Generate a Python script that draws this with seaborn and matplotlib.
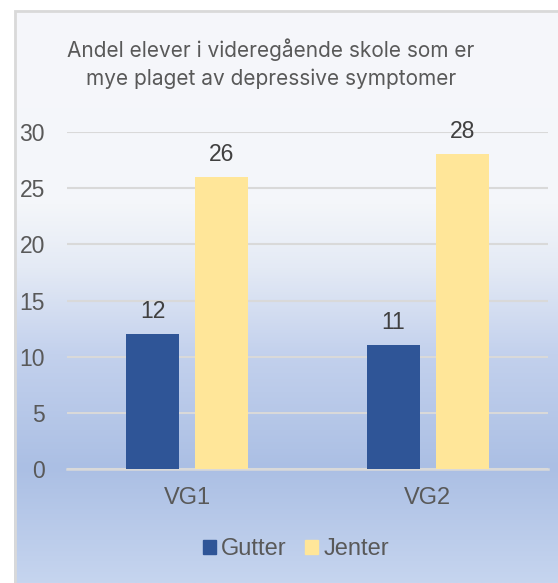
import numpy as np
import pandas as pd
import matplotlib
matplotlib.use("Agg")
import matplotlib.pyplot as plt
from matplotlib.colors import LinearSegmentedColormap
from matplotlib.patches import Rectangle
import seaborn as sns

categories = ["VG1", "VG2"]
gutter = [12, 11]
jenter = [26, 28]
series_names = ["Gutter", "Jenter"]
yticks = [0, 5, 10, 15, 20, 25, 30]
title_lines = ["Andel elever i videregående skole som er",
               "mye plaget av depressive symptomer"]

df = pd.DataFrame({
    "kategori": categories * 2,
    "verdi": gutter + jenter,
    "kjonn": [series_names[0]] * len(categories) + [series_names[1]] * len(categories),
})

sns.set_theme(style="white")
plt.rcParams["font.family"] = ["Liberation Sans", "DejaVu Sans"]

W, H = 558, 583
fig = plt.figure(figsize=(W / 100, H / 100), dpi=100)
fig.patch.set_facecolor("white")

# background gradient panel
bg = fig.add_axes([14 / W, 0, 1 - 14 / W, 1 - 10 / H])
stops = [(0.0, "#c6d5ef"), (0.20, "#abbfe4"), (0.40, "#c3d1ed"),
         (0.55, "#e4eaf5"), (0.66, "#f4f6fa"), (1.0, "#f6f7fb")]
cmap = LinearSegmentedColormap.from_list("bg", stops)
grad = np.linspace(0, 1, 256).reshape(-1, 1)
bg.imshow(grad, aspect="auto", cmap=cmap, origin="lower", extent=[0, 1, 0, 1])
bg.set_xlim(0, 1)
bg.set_ylim(0, 1)
bg.axis("off")
fig.patches.append(Rectangle((15 / W, -0.01), 1.0, 1 - 11 / H + 0.01, transform=fig.transFigure,
                             fill=False, edgecolor="#d9d9d9", linewidth=2, zorder=5))

ax = fig.add_axes([67 / W, (H - 469) / H, (548 - 67) / W, (469 - 132) / H])
ax.patch.set_alpha(0)
sns.barplot(data=df, x="kategori", y="verdi", hue="kjonn", ax=ax,
            palette=["#2f5597", "#ffe699"], width=0.575, gap=0.23,
            saturation=1, legend=False, zorder=3, linewidth=0, edgecolor="none")
ax.set_ylim(0, 30)
ax.set_xlim(-0.5, 1.5)
ax.set_yticks(yticks)
ax.yaxis.grid(True, color="#d9d9d9", linewidth=1.5, zorder=0)
ax.set_axisbelow(True)
for s in ["top", "right", "left"]:
    ax.spines[s].set_visible(False)
ax.spines["bottom"].set_color("#d9d9d9")
ax.spines["bottom"].set_linewidth(1.8)
ax.tick_params(axis="y", length=0, pad=16, labelsize=16.5, labelcolor="#595959")
ax.tick_params(axis="x", length=0, pad=13, labelsize=17, labelcolor="#595959")
ax.set_xlabel("")
ax.set_ylabel("")

for cont in ax.containers:
    ax.bar_label(cont, fontsize=16.5, color="#404040", padding=8)

for i, (line, ypx) in enumerate(zip(title_lines, [50, 79])):
    fig.text(271 / W, 1 - ypx / H, line, ha="center", va="center", fontsize=15,
             color="#595959", family=["Inter", "DejaVu Sans"])

handles = [Rectangle((0, 0), 1, 1, color="#2f5597"), Rectangle((0, 0), 1, 1, color="#ffe699")]
leg = fig.legend(handles, series_names, loc="center", bbox_to_anchor=(296 / W, 1 - 549 / H),
                 ncol=2, frameon=False, fontsize=17, handlelength=0.55, handleheight=0.55,
                 handletextpad=0.2, columnspacing=0.8)
for t in leg.get_texts():
    t.set_color("#595959")

fig.savefig("out.png", dpi=100)
